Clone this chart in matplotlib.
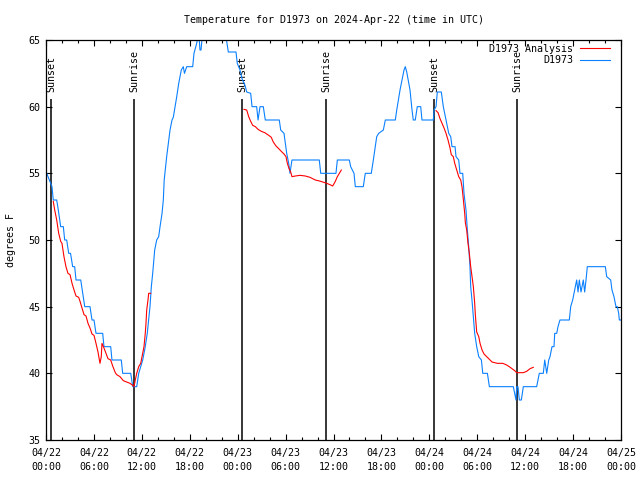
import numpy as np
import matplotlib
matplotlib.use("Agg")
import matplotlib.pyplot as plt
from matplotlib.ticker import MultipleLocator

plt.rcParams['font.family'] = ['DejaVu Sans Mono']
FS = 7.2

# hours since 2024-04-22 00:00 UTC
obs_t = [0.09, 0.75, 0.91, 1.34, 1.54, 1.84, 2.17, 2.34, 2.59, 2.84, 3.07, 3.34, 3.59, 3.76,
         4.35, 4.60, 4.85, 5.51, 5.76, 6.01, 6.26, 7.10, 7.26, 8.10, 8.26, 9.43, 9.60, 10.61,
         10.86, 11.36, 11.61, 11.86, 12.11, 12.43, 12.68, 13.02, 13.19, 13.36, 13.61, 13.86,
         14.11, 14.28, 14.53, 14.69, 14.80, 15.11, 15.53, 15.78, 15.94, 16.37, 16.62, 16.94,
         17.19, 17.34, 17.62, 18.37, 18.53, 18.87, 19.03, 19.16, 19.28, 19.41, 19.60, 20.5,
         21.5, 22.4, 22.60, 22.83, 23.79, 23.95, 24.29, 24.54, 24.92, 25.13, 25.63, 25.80,
         26.38, 26.55, 26.80, 27.21, 27.46, 29.21, 29.39, 29.80, 29.97, 30.14, 30.39, 30.55,
         30.80, 34.22, 34.40, 36.31, 36.48, 37.98, 38.15, 38.57, 38.73, 39.73, 39.98, 40.73,
         40.99, 41.41, 41.66, 42.24, 42.49, 43.74, 43.92, 44.33, 44.58, 44.83, 44.99, 45.17,
         45.58, 45.83, 45.99, 46.24, 46.49, 46.92, 47.08, 48.50, 48.59, 48.84, 49.00, 49.50,
         49.75, 50.00, 50.25, 50.43, 50.68, 50.84, 51.22, 51.34, 51.68, 51.84, 52.18, 52.34,
         52.59, 52.76, 52.93, 53.09, 53.18, 53.34, 53.51, 53.68, 53.93, 54.19, 54.52, 54.69,
         55.27, 55.52, 58.52, 58.69, 58.85, 58.94, 59.10, 59.27, 59.52, 59.77, 61.44, 61.77,
         62.27, 62.45, 62.70, 62.95, 63.11, 63.36, 63.61, 63.70, 63.95, 64.11, 64.36, 65.53,
         65.70, 65.95, 66.12, 66.28, 66.45, 66.62, 66.78, 66.99, 67.28, 67.45, 67.62, 67.78,
         70.04, 70.21, 70.71, 70.87, 71.12, 71.37, 71.54, 71.71, 71.79, 71.96]
obs_v = [55, 54, 53, 53, 52.25, 51, 51, 50, 50, 49, 49, 48, 48, 47,
         47, 46, 45, 45, 44, 44, 43, 43, 42, 42, 41, 41, 40, 40,
         39, 39, 40, 40.5, 41, 42, 43, 45, 46.5, 47.5, 49.25, 50,
         50.25, 51, 52, 53, 54.5, 56.25, 58.25, 59, 59.2, 60.75, 61.75, 62.75,
         63, 62.5, 63, 63, 64, 64.75, 65.3, 65.3, 64.25, 64.25, 65.5, 66,
         66, 65.5, 65, 64.1, 64.1, 63.25, 62.75, 62.1, 61.6, 61.1, 61, 60,
         60, 59, 60, 60, 59, 59, 58.25, 58, 57.25, 56.5, 55.75, 55,
         56, 56, 55, 55, 56, 56, 55.5, 55, 54, 54, 55, 55,
         56, 57.75, 58, 58.25, 59, 59, 59.75, 61.25, 62, 62.75, 63, 62.6,
         61.25, 59.75, 59, 59, 60, 60, 59, 59, 59.75, 60, 61.1, 61.1,
         60, 59.25, 58.5, 58, 57.75, 57, 57, 56.25, 56, 55, 55, 53.5,
         52.25, 50.75, 49.5, 48, 46.5, 45.5, 44.25, 43, 42, 41.25, 41, 40,
         40, 39, 39, 38.5, 38, 39, 39, 38, 38, 39, 39, 40,
         40, 41, 40, 41, 41.25, 42, 42, 43, 43, 43.5, 44, 44,
         45, 45.5, 46, 46.5, 47, 46.1, 47, 46.1, 47, 46.1, 47, 48,
         48, 47.25, 47, 46.25, 45.75, 45, 45, 44.5, 44, 44]

ana_t = [0.91, 1.09, 1.34, 1.59, 1.84, 2.00, 2.25, 2.50, 2.75, 3.01, 3.26, 3.51, 3.76, 4.09,
         4.26, 4.51, 4.76, 5.01, 5.26, 5.51, 5.76, 6.01, 6.26, 6.51, 6.76, 6.92, 7.01, 7.26,
         7.51, 7.76, 8.10, 8.35, 8.68, 8.85, 9.27, 9.68, 10.11, 10.52, 10.86, 11.02, 11.18,
         11.36, 11.61, 11.86, 12.11, 12.27, 12.43, 12.52, 12.61, 12.77, 12.86, 13.11,
         18.0,
         24.79, 25.13, 25.38, 25.63, 25.88, 26.21, 26.55, 26.96, 27.39, 27.89, 28.21, 28.46,
         28.80, 29.14, 29.46, 29.80, 30.05, 30.22, 30.47, 30.64, 30.80, 31.22, 31.81, 32.47,
         33.06, 33.72, 34.40, 35.15, 35.56, 35.90, 36.23, 36.48, 36.98,
         42.0,
         48.84, 49.09, 49.34, 49.59, 49.84, 50.09, 50.34, 50.59, 50.75, 51.00, 51.18, 51.43,
         51.68, 51.93, 52.09, 52.18, 52.34, 52.43, 52.51, 52.68, 52.84, 53.01, 53.18, 53.34,
         53.51, 53.68, 53.76, 53.93, 54.19, 54.35, 54.60, 54.85, 55.19, 55.52, 55.85, 56.51,
         57.19, 57.60, 58.01, 58.35, 58.69, 58.94, 59.77, 60.19, 60.61, 61.02]
ana_v = [52.9, 52.25, 51.5, 50.5, 49.9, 49.75, 48.75, 48, 47.5, 47.4, 46.75, 46.25, 45.8, 45.7,
         45.4, 44.9, 44.4, 44.3, 43.75, 43.4, 42.95, 42.85, 42.25, 41.6, 40.75, 41.25, 42.25, 41.9,
         41.5, 41.1, 41, 40.55, 40.05, 39.9, 39.75, 39.45, 39.35, 39.25, 39.1, 39, 39.5,
         40, 40.5, 40.75, 41.5, 42, 43, 43.75, 44.75, 45.5, 46, 46,
         np.nan,
         59.8, 59.75, 59.25, 58.9, 58.6, 58.5, 58.3, 58.15, 58.05, 57.85, 57.7, 57.35,
         57.05, 56.85, 56.65, 56.45, 56.25, 55.75, 55.3, 55.1, 54.75, 54.8, 54.85, 54.8,
         54.7, 54.5, 54.4, 54.25, 54.15, 54.05, 54.4, 54.75, 55.25,
         np.nan,
         59.7, 59.55, 59.1, 58.75, 58.4, 58, 57.5, 56.9, 56.4, 56.25, 55.75, 55.25,
         54.75, 54.5, 54, 53.5, 52.5, 52, 51.3, 50.75, 49.75, 49, 48, 47.25,
         46.5, 45.25, 44.4, 43.1, 42.75, 42.25, 41.75, 41.45, 41.25, 41.05, 40.85, 40.75,
         40.75, 40.65, 40.5, 40.35, 40.2, 40.05, 40.05, 40.15, 40.35, 40.45]

sun_t = [0.66, 11.06, 24.58, 35.10, 48.63, 59.02]
sun_lbl = ["Sunset", "Sunrise", "Sunset", "Sunrise", "Sunset", "Sunrise"]

xtick_hours = list(range(0, 73, 6))
xtick_labels = ["04/22\n00:00", "04/22\n06:00", "04/22\n12:00", "04/22\n18:00",
                "04/23\n00:00", "04/23\n06:00", "04/23\n12:00", "04/23\n18:00",
                "04/24\n00:00", "04/24\n06:00", "04/24\n12:00", "04/24\n18:00",
                "04/25\n00:00"]
ytick_vals = [35, 40, 45, 50, 55, 60, 65]

fig = plt.figure(figsize=(6.4, 4.8), dpi=100)
ax = fig.add_axes([46/640, 40/480, 575/640, 400/480])

for t, lab in zip(sun_t, sun_lbl):
    ax.vlines(t, 35, 60.6, color='black', lw=1.1, zorder=1)
    ax.text(t, 61.1, lab, rotation=90, ha='center', va='bottom', fontsize=FS, zorder=1)

ax.plot(ana_t, ana_v, color='#ff0000', lw=0.8, label='D1973 Analysis', zorder=3)
ax.plot(obs_t, obs_v, color='#0a80ff', lw=0.8, label='D1973', zorder=2)

ax.set_xlim(0, 72)
ax.set_ylim(35, 65)
ax.set_xticks(xtick_hours)
ax.set_xticklabels(xtick_labels, fontsize=FS, linespacing=1.5)
ax.xaxis.set_minor_locator(MultipleLocator(2))
ax.set_yticks(ytick_vals)
ax.set_yticklabels([str(v) for v in ytick_vals], fontsize=FS)
ax.tick_params(which='both', direction='in', top=True, right=True)
ax.tick_params(which='major', length=4, width=0.8, pad=4)
ax.tick_params(axis='x', which='major', pad=6)
ax.tick_params(which='minor', length=2, width=0.8)
for s in ax.spines.values():
    s.set_linewidth(0.9)

ax.set_ylabel('degrees F', fontsize=FS, labelpad=9)
ax.set_title('Temperature for D1973 on 2024-Apr-22 (time in UTC)', fontsize=FS, pad=12)

leg = ax.legend(loc='upper right', bbox_to_anchor=(0.981, 0.99), frameon=False,
                markerfirst=False, fontsize=FS, handlelength=3.0, handletextpad=0.7,
                labelspacing=0.15, borderpad=0, borderaxespad=0)

fig.savefig('out.png', dpi=100)
